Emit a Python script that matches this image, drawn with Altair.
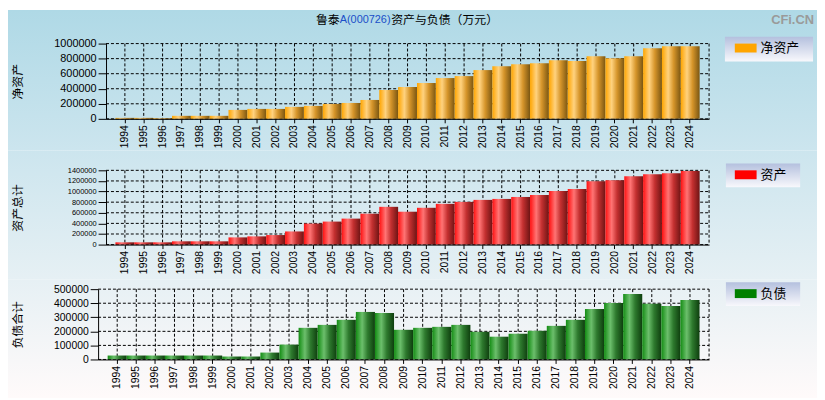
import altair as alt
import pandas as pd

# ---------------- data ----------------
years = [str(y) for y in range(1994, 2025)]
net_assets = [13000, 13000, 9000, 40000, 40000, 40000, 119000, 132000, 132000, 159000,
              172000, 198000, 211000, 251000, 383000, 423000, 476000, 542000, 568000, 648000,
              700000, 727000, 740000, 780000, 767000, 833000, 806000, 833000, 938000, 965000, 965000]
total_assets = [43000, 43000, 43000, 62000, 62000, 62000, 136000, 155000, 180000, 248000,
                397000, 434000, 490000, 582000, 712000, 620000, 694000, 768000, 805000, 843000,
                861000, 898000, 935000, 1010000, 1047000, 1196000, 1214000, 1289000, 1326000, 1344000, 1388000]
total_liab = [28000, 28000, 28000, 28000, 28000, 28000, 21000, 21000, 49000, 106000,
              225000, 246000, 282000, 338000, 331000, 211000, 225000, 232000, 246000, 197000,
              162000, 183000, 204000, 239000, 282000, 359000, 401000, 465000, 397000, 380000, 423000]

ticks_net = [0, 200000, 400000, 600000, 800000, 1000000]
ticks_assets = [0, 200000, 400000, 600000, 800000, 1000000, 1200000, 1400000]
ticks_liab = [0, 100000, 200000, 300000, 400000, 500000]

series_names = ["净资产", "资产", "负债"]
axis_titles = ["净资产", "资产总计", "负债合计"]
title_parts = ["鲁泰", "A(000726)", "资产与负债（万元）"]
watermark = "CFi.CN"

# ---------------- styles ----------------
BG_TOP = (173, 216, 230)
BG_BOT = (255, 250, 250)
PAGE_H = 400.0
ORIGIN_X = 99          # page x of every panel's group origin
PANEL_W = 617          # group width (right edge at page 716)
YTITLE_X = 18          # page x of the rotated y-axis titles


def bg_color(py):
    t = max(0.0, min(1.0, py / PAGE_H))
    c = [round(a + (b - a) * t) for a, b in zip(BG_TOP, BG_BOT)]
    return "#%02x%02x%02x" % tuple(c)


def vgrad(c0, c1):
    return alt.LinearGradient(gradient="linear", x1=0, x2=0, y1=0, y2=1,
                              stops=[alt.GradientStop(color=c0, offset=0),
                                     alt.GradientStop(color=c1, offset=1)])


def hgrad(stops):
    return alt.LinearGradient(gradient="linear", x1=0, x2=1, y1=0, y2=0,
                              stops=[alt.GradientStop(color=c, offset=o) for o, c in stops])


orange_grad = hgrad([(0, "#FFA500"), (0.33, "#FFD27F"), (0.62, "#D6952A"), (1, "#7A5612")])
red_grad = hgrad([(0, "#FF1010"), (0.33, "#FF7474"), (0.62, "#C43030"), (1, "#6E1414")])
green_grad = hgrad([(0, "#138C13"), (0.33, "#6CBF6C"), (0.62, "#2E7A2E"), (1, "#0E3E0E")])

LABEL_FONT = "Liberation Sans"
CJK = "Noto Sans CJK SC"
one = pd.DataFrame({"a": [0]})


def panel(values, ymax, yticks, ytitle, ylabel_size, plot_left, h, page_y,
          slice_top, slice_bot, bar_grad, legend_name, legend_color, legend_box,
          extra=None):
    w = PANEL_W
    px = ORIGIN_X
    xr0 = plot_left - px
    df = pd.DataFrame({"year": years, "value": values})
    gdf = pd.DataFrame({"value": yticks})
    xscale = alt.Scale(paddingInner=0, paddingOuter=0.5, range=[xr0, w])
    yscale = alt.Scale(domain=[0, ymax], nice=False, zero=True)
    xaxis = alt.Axis(title=None, grid=False, labelAngle=-90, tickSize=4, labelPadding=2,
                     labelFont=LABEL_FONT, labelFontSize=10.5, labelColor="black",
                     domainColor="black", tickColor="black", bandPosition=0.5,
                     zindex=1, labelOverlap=False)
    yaxis = alt.Axis(values=yticks, format="d", grid=False, tickSize=8, labelPadding=2,
                     labelFont=LABEL_FONT, labelFontSize=ylabel_size, labelColor="black",
                     domainColor="black", tickColor="black", zindex=1, offset=-xr0,
                     title=ytitle, titleX=YTITLE_X - plot_left, titleY=h / 2, titleAngle=270,
                     titleAlign="center", titleBaseline="middle", titleFont=CJK,
                     titleFontSize=12, titleFontWeight="normal", titleColor="black",
                     labelOverlap=False)
    X = alt.X("year:N", sort=years, scale=xscale, axis=xaxis)
    Y = alt.Y("value:Q", scale=yscale, axis=yaxis)

    bars = alt.Chart(df).mark_bar(color=bar_grad).encode(x=X, y=Y)

    bg = alt.Chart(one).mark_rect(color=vgrad(bg_color(slice_top), bg_color(slice_bot))).encode(
        x=alt.value(8 - px), x2=alt.value(825 - px),
        y=alt.value(slice_top - page_y), y2=alt.value(slice_bot - page_y))

    hgrid = alt.Chart(gdf).mark_rule(color="black", strokeDash=[3, 2], strokeWidth=1).encode(
        y=Y, x=alt.value(xr0), x2=alt.value(w))
    vgrid = alt.Chart(df).mark_rule(color="black", strokeDash=[3, 2], strokeWidth=1).encode(
        x=X, y=alt.value(0), y2=alt.value(h))
    border = alt.Chart(one).mark_rule(color="black", strokeDash=[3, 2], strokeWidth=1).encode(
        x=alt.value(w), y=alt.value(0), y2=alt.value(h))

    bx0, by0, bx1, by1 = legend_box
    lbox = alt.Chart(one).mark_rect(color=vgrad("#B4C0DE", "#F8F8FC")).encode(
        x=alt.value(bx0 - px), x2=alt.value(bx1 - px),
        y=alt.value(by0 - page_y), y2=alt.value(by1 - page_y))
    sw_y = by0 + 7
    swatch = alt.Chart(one).mark_rect(color=legend_color).encode(
        x=alt.value(742 - px), x2=alt.value(764 - px),
        y=alt.value(sw_y - page_y), y2=alt.value(sw_y + 9 - page_y))
    ltext = alt.Chart(one).mark_text(text=legend_name, align="left", baseline="middle",
                                      font=CJK, fontSize=13, color="black").encode(
        x=alt.value(768 - px), y=alt.value(sw_y + 4.5 - page_y))

    layers = [bars, bg, hgrid, vgrid, border, bars, lbox, swatch, ltext]
    if extra:
        layers += extra(px, page_y)
    return alt.layer(*layers).properties(width=w, height=h)


def title_layers(px, py):
    ty = 18 - py
    t1 = alt.Chart(one).mark_text(text=title_parts[0], align="right", baseline="middle",
                                  font=CJK, fontSize=12, color="black").encode(
        x=alt.value(343 - px), y=alt.value(ty))
    t2 = alt.Chart(one).mark_text(text=title_parts[1], align="left", baseline="middle",
                                  font=LABEL_FONT, fontSize=11, color="#1a4fc8").encode(
        x=alt.value(343 - px), y=alt.value(ty))
    t3 = alt.Chart(one).mark_text(text=title_parts[2], align="left", baseline="middle",
                                  font=CJK, fontSize=12, color="black").encode(
        x=alt.value(395 - px), y=alt.value(ty))
    wm = alt.Chart(one).mark_text(text=watermark, align="right", baseline="top",
                                  font=LABEL_FONT, fontSize=13, fontWeight="bold",
                                  color="#9a9a9a").encode(
        x=alt.value(822 - px), y=alt.value(12 - py))
    return [t1, t2, t3, wm]


p1 = panel(net_assets, 1000000, ticks_net, axis_titles[0], 11, 107, 76, 42,
           8, 150, orange_grad, series_names[0], "#FFA500", (732, 35, 821, 60),
           extra=title_layers)
p2 = panel(total_assets, 1400000, ticks_assets, axis_titles[1], 7.5, 107, 75, 170,
           150, 280, red_grad, series_names[1], "#FF0000", (733, 163, 808, 187))
p3 = panel(total_liab, 500000, ticks_liab, axis_titles[2], 10.5, 99, 71, 290,
           280, 400, green_grad, series_names[2], "#008000", (733, 283, 808, 307))

chart = alt.vconcat(p1, p2, p3, spacing=0).properties(padding=0).configure_view(stroke=None)

chart.save("out.html", embed_options={"renderer": "svg", "actions": False})
